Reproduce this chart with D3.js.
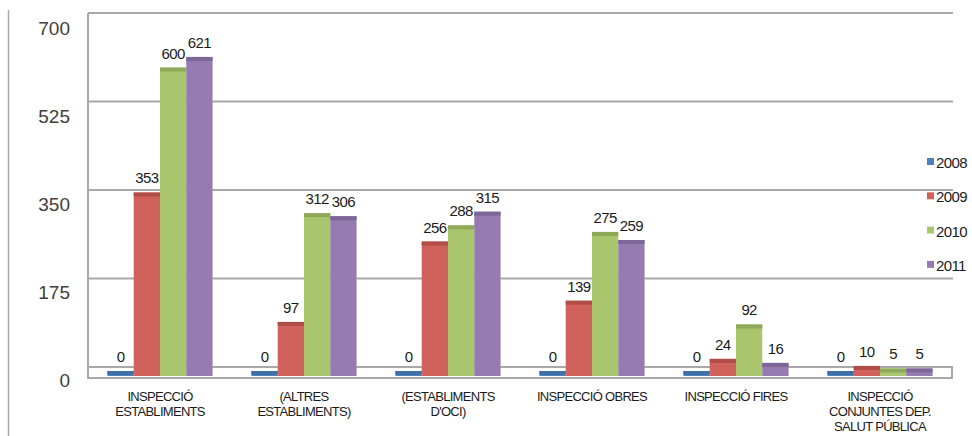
<!DOCTYPE html>
<html>
<head>
<meta charset="utf-8">
<script src="https://cdn.jsdelivr.net/npm/d3@7"></script>
<style>
  body { margin: 0; background: #fff; }
  svg { display: block; font-family: "Liberation Sans", Arial, sans-serif; }
</style>
</head>
<body>
<div id="chart"></div>
<script>
// data
var categories = ["INSPECCIÓ ESTABLIMENTS", "(ALTRES ESTABLIMENTS)", "(ESTABLIMENTS D'OCI)",
                  "INSPECCIÓ OBRES", "INSPECCIÓ FIRES", "INSPECCIÓ CONJUNTES DEP. SALUT PÚBLICA"];
var categoryLines = [["INSPECCIÓ", "ESTABLIMENTS"], ["(ALTRES", "ESTABLIMENTS)"], ["(ESTABLIMENTS", "D'OCI)"],
                     ["INSPECCIÓ OBRES"], ["INSPECCIÓ FIRES"], ["INSPECCIÓ", "CONJUNTES DEP.", "SALUT PÚBLICA"]];
var years = ["2008", "2009", "2010", "2011"];
var values2008 = [0, 0, 0, 0, 0, 0];
var values2009 = [353, 97, 256, 139, 24, 10];
var values2010 = [600, 312, 288, 275, 92, 5];
var values2011 = [621, 306, 315, 259, 16, 5];
var yTicks = [0, 175, 350, 525, 700];

var series = [values2008, values2009, values2010, values2011];
var colors = ["#4f81bd", "#d0625b", "#a9c66c", "#957bb0"];
var capColors = ["#3f6fa8", "#b14d48", "#8ea95a", "#7d6698"];

var width = 972, height = 436;
var svg = d3.select("#chart").append("svg").attr("width", width).attr("height", height);

var left = 88, right = 952, base = 376;

var x0 = d3.scaleBand().domain(categories).range([left, right]).paddingInner(0.27).paddingOuter(0.135);
var x1 = d3.scaleBand().domain(years).range([0, x0.bandwidth()]);
var yBar = d3.scaleLinear().domain([0, 700]).range([371, 17]);
var yWall = d3.scaleLinear().domain([0, 700]).range([367, 13]);
var yLabel = d3.scaleLinear().domain([0, 700]).range([380, 28]);

// outer left border
svg.append("line").attr("x1", 8.5).attr("x2", 8.5).attr("y1", 10).attr("y2", height)
  .attr("stroke", "#a6a6a6").attr("stroke-width", 1.5);

// back wall gridlines
svg.append("g").selectAll("line").data(yTicks.filter(function(d){ return d > 0; }))
  .enter().append("line")
  .attr("x1", left).attr("x2", right + 1)
  .attr("y1", function(d){ return yWall(d); }).attr("y2", function(d){ return yWall(d); })
  .attr("stroke", "#a8a8a8").attr("stroke-width", 2);

svg.append("line").attr("x1", left).attr("x2", left).attr("y1", yWall(700)).attr("y2", 378)
  .attr("stroke", "#a8a8a8").attr("stroke-width", 2);

// floor
svg.append("rect").attr("x", left).attr("y", yWall(0)).attr("width", right - left).attr("height", 11)
  .attr("fill", "#fff").attr("stroke", "#a8a8a8").attr("stroke-width", 2);

// y labels
var yAxis = svg.append("g").attr("transform", "translate(70,0)")
  .call(d3.axisLeft(yLabel).tickValues(yTicks).tickSize(0).tickPadding(0));
yAxis.select(".domain").remove();
yAxis.selectAll("text").attr("font-size", 19).attr("fill", "#404040")
  .attr("font-family", "'Liberation Sans', Arial, sans-serif");

// bars
var groups = svg.append("g").selectAll("g").data(categories).enter().append("g")
  .attr("transform", function(d){ return "translate(" + x0(d) + ",0)"; });

years.forEach(function(yr, s) {
  groups.append("rect")
    .attr("x", x1(yr)).attr("width", x1.bandwidth())
    .attr("y", function(d, i){ return yBar(series[s][i]); })
    .attr("height", function(d, i){ return base - yBar(series[s][i]); })
    .attr("fill", colors[s]);
  groups.append("rect")
    .attr("x", x1(yr)).attr("width", x1.bandwidth())
    .attr("y", function(d, i){ return yBar(series[s][i]); })
    .attr("height", 4)
    .attr("fill", capColors[s]);
  groups.append("text")
    .attr("x", x1(yr) + x1.bandwidth() / 2)
    .attr("y", function(d, i){ return yBar(series[s][i]) - 9; })
    .attr("text-anchor", "middle").attr("font-size", 15).attr("letter-spacing", -0.6)
    .attr("fill", "#1a1a1a")
    .text(function(d, i){ return series[s][i]; });
});

// category labels
var cat = svg.append("g").selectAll("text").data(categories).enter().append("text")
  .attr("x", function(d){ return x0(d) + x0.bandwidth() / 2; })
  .attr("y", 401)
  .attr("text-anchor", "middle").attr("font-size", 13).attr("letter-spacing", -0.7)
  .attr("fill", "#1a1a1a");
cat.each(function(d, i) {
  var t = d3.select(this);
  categoryLines[i].forEach(function(line, j) {
    t.append("tspan").attr("x", x0(d) + x0.bandwidth() / 2).attr("dy", j === 0 ? 0 : 15).text(line);
  });
});

// legend
var legend = svg.append("g").selectAll("g").data(years).enter().append("g")
  .attr("transform", function(d, i){ return "translate(927," + (162 + i * 34.3) + ")"; });
legend.append("rect").attr("x", 0).attr("y", -4).attr("width", 7).attr("height", 7)
  .attr("fill", function(d, i){ return colors[i]; });
legend.append("text").attr("x", 9).attr("y", 6).attr("font-size", 15).attr("letter-spacing", -0.6)
  .attr("fill", "#1a1a1a").text(function(d){ return d; });
</script>
</body>
</html>
